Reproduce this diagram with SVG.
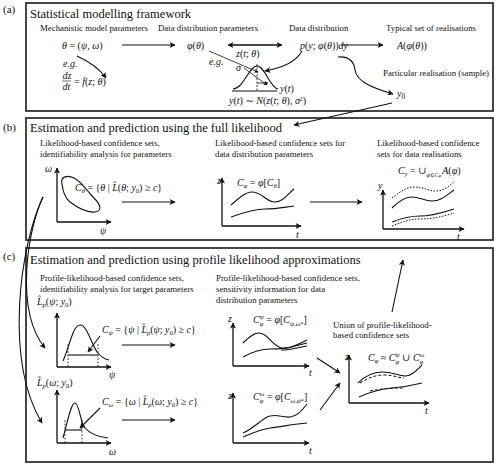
<svg xmlns="http://www.w3.org/2000/svg" width="496" height="465" viewBox="0 0 496 465">
<defs>
<marker id="ah" viewBox="0 0 10 10" refX="9" refY="5" markerWidth="8" markerHeight="6" orient="auto" markerUnits="userSpaceOnUse"><path d="M0,0 L10,5 L0,10 L2.5,5 z" fill="#111"/></marker>
<marker id="as" viewBox="0 0 10 10" refX="9" refY="5" markerWidth="5" markerHeight="4" orient="auto" markerUnits="userSpaceOnUse"><path d="M0,0 L10,5 L0,10 L2.5,5 z" fill="#111"/></marker>
</defs>
<style>
text{font-family:"Liberation Serif","DejaVu Serif",serif;fill:#111}
.h{font-size:12.5px}
.s{font-size:8.8px}
.m{font-style:italic;font-size:10px}
.n{font-style:normal}
.box{fill:none;stroke:#333;stroke-width:1.8}
.ln{fill:none;stroke:#111;stroke-width:1.1}
.ar{fill:none;stroke:#111;stroke-width:1.1;marker-end:url(#ah)}
.ars{fill:none;stroke:#111;stroke-width:0.8;marker-end:url(#as)}
.ax{fill:none;stroke:#111;stroke-width:1.3;marker-end:url(#ah)}
.cv{fill:none;stroke:#111;stroke-width:1.1}
.dash{fill:none;stroke:#111;stroke-width:0.8;stroke-dasharray:2 1.5}
.dot{fill:none;stroke:#111;stroke-width:1;stroke-dasharray:1.5 1.5}
.dsh{fill:none;stroke:#111;stroke-width:1;stroke-dasharray:3 2}
</style>

<!-- Panel (a) -->
<g id="panel-a">
<text x="3" y="13" font-size="11">(a)</text>
<rect class="box" x="26" y="3" width="467" height="108"/>
<text class="h" x="30" y="18">Statistical modelling framework</text>
</g>
<g id="a-mech">
<text class="s" x="40" y="31">Mechanistic model parameters</text>
<text class="m" x="62" y="49" font-size="11.5">θ<tspan class="n"> = (</tspan>ψ<tspan class="n">, </tspan>ω<tspan class="n">)</tspan></text>
<text class="m" x="63" y="67" font-size="7.5">e.g.</text>
<text class="m" x="62.5" y="78.5" font-size="7">dz</text>
<line x1="62" y1="81" x2="71" y2="81" stroke="#111" stroke-width="0.6"/>
<text class="m" x="62.5" y="89.5" font-size="7">dt</text>
<text class="m" x="74" y="85" font-size="11"><tspan class="n">= </tspan>f<tspan class="n">(</tspan>z<tspan class="n">; </tspan>θ<tspan class="n">)</tspan></text>
</g>
<g id="a-ddp">
<text class="s" x="158" y="31">Data distribution parameters</text>
<text class="m" x="187" y="49" font-size="11.5">φ<tspan class="n">(</tspan>θ<tspan class="n">)</tspan></text>
<text class="m" x="209" y="65" font-size="7">e.g.</text>
<text class="m" x="236" y="57" font-size="8.5">z<tspan class="n">(</tspan>t<tspan class="n">; </tspan>θ<tspan class="n">)</tspan></text>
<text class="m" x="236" y="71" font-size="8">σ</text>
<line x1="232" y1="91" x2="277" y2="91" stroke="#111" stroke-width="1.1"/>
<path class="cv" d="M233,89 C244,88 249,66 257,66 C265,66 270,88 278,89"/>
<line class="dash" x1="257" y1="64" x2="257" y2="91"/>
<path class="ars" d="M257,83 L268,83"/>
<text class="m" x="280" y="92" font-size="9">y<tspan class="n">(</tspan>t<tspan class="n">)</tspan></text>
<text class="m" x="229" y="104" font-size="8.5">y<tspan class="n">(</tspan>t<tspan class="n">) ∼ </tspan>N<tspan class="n">(</tspan>z<tspan class="n">(</tspan>t<tspan class="n">; </tspan>θ<tspan class="n">), </tspan>σ<tspan class="n" font-size="6" dy="-3.5">2</tspan><tspan class="n" dy="3.5">)</tspan></text>
</g>
<g id="a-dd">
<text class="s" x="289" y="31">Data distribution</text>
<text class="m" x="300" y="49" font-size="11.5">p<tspan class="n">(</tspan>y<tspan class="n">; </tspan>φ<tspan class="n">(</tspan>θ<tspan class="n">))</tspan>dy</text>
</g>
<g id="a-typ">
<text class="s" x="386" y="31">Typical set of realisations</text>
<text class="m" x="397" y="49" font-size="11.5">A<tspan class="n">(</tspan>φ<tspan class="n">(</tspan>θ<tspan class="n">))</tspan></text>
</g>
<g id="a-sample">
<text class="s" x="383" y="76">Particular realisation (sample)</text>
<text class="m" x="397" y="97" font-size="11">y<tspan class="n" font-size="7.5" dy="2">0</tspan></text>
</g>

<!-- Panel (b) -->
<g id="panel-b">
<text x="3" y="131" font-size="11">(b)</text>
<rect class="box" x="26" y="118" width="467" height="122"/>
<text class="h" x="30" y="132">Estimation and prediction using the full likelihood</text>
</g>
<g id="b-params">
<text class="s" x="40" y="146">Likelihood-based confidence sets,</text>
<text class="s" x="40" y="157">identifiability analysis for parameters</text>
<path class="ax" d="M57,222 L57,168"/>
<path class="ax" d="M57,222 L111,222"/>
<text class="m" x="45" y="172" font-size="9">ω</text>
<text class="m" x="100" y="234" font-size="9">ψ</text>
<path class="cv" d="M62,184 C60,176 68,175 74,178 C82,182 86,190 94,198 C100,204 103,211 95,212 C86,213 78,208 70,202 C64,197 63,190 62,184 z"/>
<text class="m" x="75" y="191" font-size="9.5">C<tspan font-size="6.5" dy="2">θ</tspan><tspan class="n" dy="-2"> = {</tspan>θ<tspan class="n"> | </tspan>L&#x302;<tspan class="n">(</tspan>θ<tspan class="n">; </tspan>y<tspan class="n" font-size="6.5" dy="2">0</tspan><tspan class="n" dy="-2">) ≥ </tspan>c<tspan class="n">}</tspan></text>
</g>
<g id="b-ddp">
<text class="s" x="215" y="146">Likelihood-based confidence sets for</text>
<text class="s" x="215" y="157">data distribution parameters</text>
<path class="ax" d="M222,226 L222,178"/>
<path class="ax" d="M222,226 L301,226"/>
<text class="m" x="217" y="184" font-size="9">z</text>
<text class="m" x="296" y="238" font-size="9">t</text>
<text class="m" x="237" y="186" font-size="9.5">C<tspan font-size="6.5" dy="2">φ</tspan><tspan class="n" dy="-2"> = </tspan>φ<tspan class="n">[</tspan>C<tspan font-size="6.5" dy="2">θ</tspan><tspan class="n" dy="-2">]</tspan></text>
<path class="cv" d="M231,205 C240,197 246,192 252,192 C262,192 266,202 275,202 C283,202 288,194 294,189"/>
<path class="cv" d="M231,217 C245,212 255,209 265,209 C278,209 285,207 294,206"/>
</g>
<g id="b-real">
<text class="s" x="377" y="146">Likelihood-based   confidence</text>
<text class="s" x="377" y="157">sets for data realisations</text>
<path class="ax" d="M383,229 L383,190"/>
<path class="ax" d="M383,229 L464,229"/>
<text class="m" x="378" y="189" font-size="9">y</text>
<text class="m" x="457" y="240" font-size="9">t</text>
<text class="m" x="398" y="174" font-size="9.5">C<tspan font-size="6.5" dy="2">y</tspan><tspan class="n" dy="-2"> = ∪</tspan><tspan font-size="6" dy="2.5">φ<tspan class="n">∈</tspan>C<tspan font-size="5">φ</tspan></tspan><tspan dy="-2.5" dx="1">A</tspan><tspan class="n">(</tspan>φ<tspan class="n">)</tspan></text>
<path class="dot" d="M392,198 C400,192 406,187 414,187 C424,187 428,191 436,191 C444,191 449,186 454,182"/>
<path class="cv" d="M392,208 C400,200 405,197 411,197 C420,197 424,201 432,201 C441,201 447,195 454,190"/>
<path class="cv" d="M392,222 C402,218 410,216 420,216 C434,216 444,212 454,209"/>
<path class="dot" d="M392,226 C402,222 410,219 420,219 C434,219 444,216 454,213"/>
</g>

<!-- Panel (c) -->
<g id="panel-c">
<text x="3" y="260" font-size="11">(c)</text>
<rect class="box" x="26" y="248" width="467" height="214"/>
<text class="h" x="30" y="264">Estimation and prediction using profile likelihood approximations</text>
<text class="s" x="40" y="281">Profile-likelihood-based confidence sets,</text>
<text class="s" x="40" y="292">identifiability analysis for target parameters</text>
<text class="s" x="216" y="281">Profile-likelihood-based confidence sets,</text>
<text class="s" x="216" y="292">sensitivity information for data</text>
<text class="s" x="216" y="303">distribution parameters</text>
</g>
<g id="c-psi">
<text class="m" x="37" y="305" font-size="9.5">L&#x302;<tspan font-size="6.5" dy="2">p</tspan><tspan class="n" dy="-2">(</tspan>ψ<tspan class="n">; </tspan>y<tspan class="n" font-size="6.5" dy="2">0</tspan><tspan class="n" dy="-2">)</tspan></text>
<path class="ax" d="M57,367 L57,313"/>
<path class="ax" d="M57,367 L111,367"/>
<text class="m" x="109" y="378" font-size="9">ψ</text>
<path class="cv" d="M63,361 C70,345 73,325 80,325 C87,325 91,343 97,352 C101,357 104,359 109,360"/>
<line x1="68" y1="355" x2="98" y2="355" stroke="#111" stroke-width="1.1"/>
<line class="dash" x1="68" y1="344" x2="68" y2="367"/>
<line class="dash" x1="98" y1="344" x2="98" y2="367"/>
<text class="m" x="102" y="333" font-size="9.5">C<tspan font-size="6.5" dy="2">ψ</tspan><tspan class="n" dy="-2"> = {</tspan>ψ<tspan class="n"> | </tspan>L&#x302;<tspan font-size="6.5" dy="2">p</tspan><tspan class="n" dy="-2">(</tspan>ψ<tspan class="n">; </tspan>y<tspan class="n" font-size="6.5" dy="2">0</tspan><tspan class="n" dy="-2">) ≥ </tspan>c<tspan class="n">}</tspan></text>
</g>
<g id="c-omega">
<text class="m" x="37" y="386" font-size="9.5">L&#x302;<tspan font-size="6.5" dy="2">p</tspan><tspan class="n" dy="-2">(</tspan>ω<tspan class="n">; </tspan>y<tspan class="n" font-size="6.5" dy="2">0</tspan><tspan class="n" dy="-2">)</tspan></text>
<path class="ax" d="M57,443 L57,390"/>
<path class="ax" d="M57,443 L111,443"/>
<text class="m" x="109" y="455" font-size="9">ω</text>
<path class="cv" d="M63,438 C68,420 71,403 75,403 C79,403 80,420 84,427 C90,434 98,437 108,438"/>
<line x1="65" y1="430" x2="82" y2="430" stroke="#111" stroke-width="1.1"/>
<line class="dash" x1="65" y1="420" x2="65" y2="443"/>
<line class="dash" x1="82" y1="420" x2="82" y2="443"/>
<text class="m" x="102" y="405" font-size="9.5">C<tspan font-size="6.5" dy="2">ω</tspan><tspan class="n" dy="-2"> = {</tspan>ω<tspan class="n"> | </tspan>L&#x302;<tspan font-size="6.5" dy="2">p</tspan><tspan class="n" dy="-2">(</tspan>ω<tspan class="n">; </tspan>y<tspan class="n" font-size="6.5" dy="2">0</tspan><tspan class="n" dy="-2">) ≥ </tspan>c<tspan class="n">}</tspan></text>
</g>
<g id="c-phi-psi">
<path class="ax" d="M233,366 L233,323"/>
<path class="ax" d="M233,366 L309,366"/>
<text class="m" x="228" y="322" font-size="9">z</text>
<text class="m" x="309" y="376" font-size="9">t</text>
<text class="m" x="253" y="323" font-size="9.5">C<tspan font-size="6.5" dy="2.5">φ</tspan><tspan font-size="6.5" dx="-3.5" dy="-7">ψ</tspan><tspan class="n" dy="4.5"> = </tspan>φ<tspan class="n">[</tspan>C<tspan font-size="6.5" dy="2.5">ψ<tspan class="n">,</tspan>ω<tspan class="n">*</tspan></tspan><tspan class="n" dy="-2.5">]</tspan></text>
<path class="cv" d="M243,343 C250,336 254,333 259,333 C268,333 272,346 282,348 C292,349 300,343 307,340"/>
<path class="cv" d="M243,357 C252,352 260,349 270,349 C280,349 285,349 292,347 C298,345 303,344 307,343"/>
<path class="cv" d="M281,350 C292,350 300,347 307,346"/>
</g>
<g id="c-phi-omega">
<path class="ax" d="M233,443 L233,393"/>
<path class="ax" d="M233,443 L309,443"/>
<text class="m" x="228" y="399" font-size="9">z</text>
<text class="m" x="309" y="454" font-size="9">t</text>
<text class="m" x="253" y="400" font-size="9.5">C<tspan font-size="6.5" dy="2.5">φ</tspan><tspan font-size="6.5" dx="-3.5" dy="-7">ω</tspan><tspan class="n" dy="4.5"> = </tspan>φ<tspan class="n">[</tspan>C<tspan font-size="6.5" dy="2.5">ω<tspan class="n">,</tspan>ψ<tspan class="n">*</tspan></tspan><tspan class="n" dy="-2.5">]</tspan></text>
<path class="cv" d="M243,433 C255,428 262,418 270,416 C278,414 283,418 290,417 C298,416 302,410 307,404"/>
<path class="cv" d="M243,437 C255,432 262,429 270,428 C285,426 295,424 307,423"/>
</g>
<g id="c-union">
<text class="s" x="333" y="328">Union   of   profile-likelihood-</text>
<text class="s" x="333" y="338">based confidence sets</text>
<path class="ax" d="M349,403 L349,355"/>
<path class="ax" d="M349,403 L429,403"/>
<text class="m" x="345" y="360" font-size="9">z</text>
<text class="m" x="425" y="414" font-size="9">t</text>
<text class="m" x="368" y="361" font-size="9.5">C<tspan font-size="6.5" dy="2">φ</tspan><tspan class="n" dy="-2"> ≈ </tspan>C<tspan font-size="6.5" dy="2.5">φ</tspan><tspan font-size="6.5" dx="-3.5" dy="-7">ψ</tspan><tspan class="n" dy="4.5"> ∪ </tspan>C<tspan font-size="6.5" dy="2.5">φ</tspan><tspan font-size="6.5" dx="-3.5" dy="-7">ω</tspan></text>
<path class="cv" d="M358,383 C365,376 372,372 382,372 C393,372 398,376 405,376 C412,376 417,370 422,365"/>
<path class="dsh" d="M360,383 C368,378 375,375 384,375 C394,375 398,378 404,378"/>
<path class="cv" d="M359,397 C370,392 380,389 392,388 C405,387 414,385 422,383"/>
<path class="dsh" d="M370,391 C380,389 390,388 404,388"/>
</g>

<!-- Connectors -->
<g id="connectors">
<path class="ar" d="M122,45 L175,45"/>
<path class="ar" d="M232,45 L282,45"/>
<path class="ar" d="M278,45 L228,45"/>
<path class="ar" d="M341,45 L383,45"/>
<path class="ar" d="M77,56 C88,61 99,68 106,78"/>
<path class="ars" d="M209,51 L258,72"/>
<path class="ars" d="M244,68 L267,85"/>
<path class="ar" d="M302,51 C296,62 282,68 265,71"/>
<path class="ar" d="M338,57 C350,56 354,62 355,70 C357,80 366,86 393,94"/>
<path class="ar" d="M392,103 L294,125"/>
<path class="ar" d="M122,202 L175,202"/>
<path class="ar" d="M310,202 L362,202"/>
<path class="ar" d="M43,197 C28,228 14,310 45,348"/>
<path class="ar" d="M43,197 C20,245 4,360 42,423"/>
<path class="ar" d="M100,336 L88,352"/>
<path class="ar" d="M100,408 L80,428"/>
<path class="ar" d="M122,345 L175,345"/>
<path class="ar" d="M122,420 L175,420"/>
<path class="ar" d="M317,358 L340,373"/>
<path class="ar" d="M320,410 L340,383"/>
<path class="ar" d="M392,312 L403,260"/>
</g>
</svg>
